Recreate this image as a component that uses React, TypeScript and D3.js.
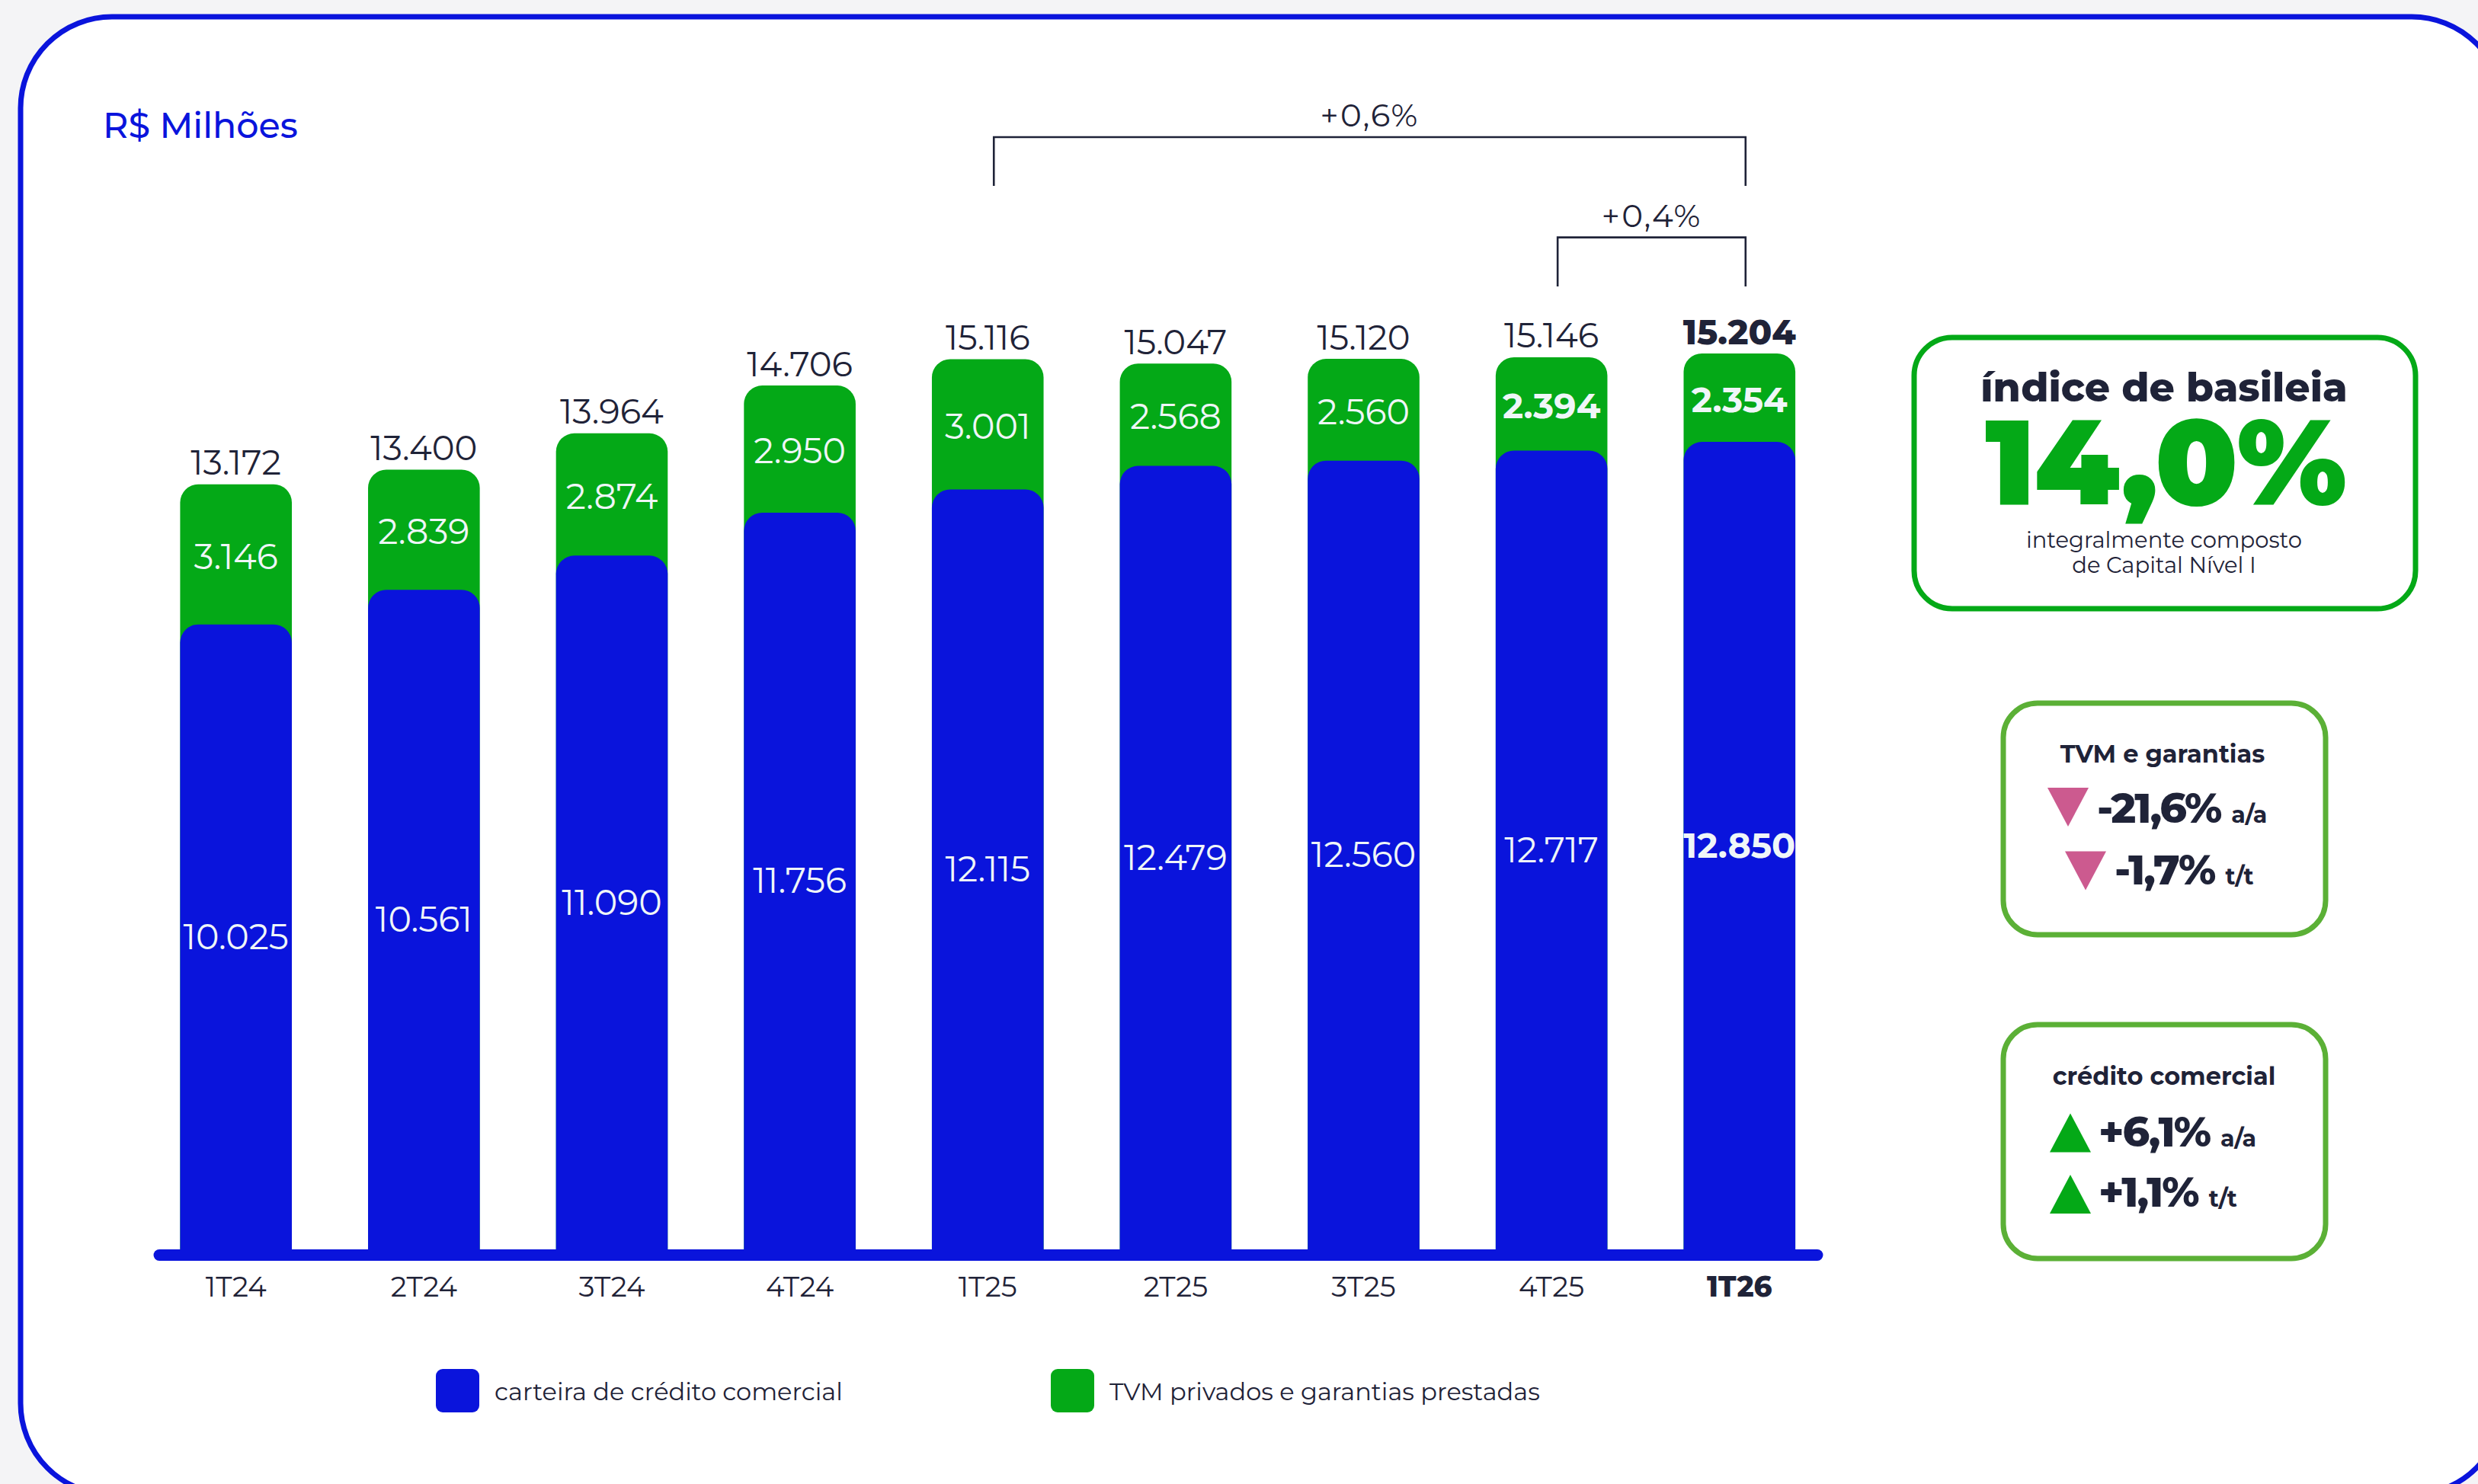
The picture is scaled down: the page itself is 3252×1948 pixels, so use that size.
import * as d3 from "d3";

const categories = ["1T24", "2T24", "3T24", "4T24", "1T25", "2T25", "3T25", "4T25", "1T26"];
const carteira = [10025, 10561, 11090, 11756, 12115, 12479, 12560, 12717, 12850];
const tvm = [3146, 2839, 2874, 2950, 3001, 2568, 2560, 2394, 2354];
const totals = [13172, 13400, 13964, 14706, 15116, 15047, 15120, 15146, 15204];
const boldTvm = ["4T25", "1T26"];
const highlight = "1T26";

const brackets = [
  { from: "1T25", to: "1T26", label: "+0,6%" },
  { from: "4T25", to: "1T26", label: "+0,4%" },
];

const legendItems = [
  { label: "carteira de crédito comercial", color: "#0a14dc" },
  { label: "TVM privados e garantias prestadas", color: "#04a917" },
];

const tvmChanges = [
  { value: "-21,6%", unit: "a/a" },
  { value: "-1,7%", unit: "t/t" },
];
const creditoChanges = [
  { value: "+6,1%", unit: "a/a" },
  { value: "+1,1%", unit: "t/t" },
];

const W = 3252;
const H = 1948;
const FONT = "Montserrat, Inter, 'Noto Sans', sans-serif";
const BLUE = "#0a14dc";
const GREEN = "#04a917";
const DARK = "#1f2338";
const LIGHT = "#eff6f8";
const PINK = "#cc5a8f";
const BASE = 1640;

const fmt = d3.formatLocale({ decimal: ",", thousands: ".", grouping: [3], currency: ["R$", ""] }).format(",d");

// top-rounded bar path
function topRounded(x: number, y: number, w: number, h: number, r: number) {
  return `M${x},${y + h}V${y + r}A${r},${r} 0 0 1 ${x + r},${y}H${x + w - r}A${r},${r} 0 0 1 ${x + w},${y + r}V${y + h}Z`;
}

export default function App() {
  const x = d3.scaleBand<string>().domain(categories).range([236.4, 2356.1]).paddingInner(0.4056).paddingOuter(0);
  // the chart's axis is truncated: blue segment and stack total each on their own scale
  const yBlue = d3.scaleLinear().domain([351, 13000]).range([BASE, BASE - 1072.6]);
  const yTotal = d3.scaleLinear().domain([1290, 15500]).range([BASE, BASE - 1201]);
  const bw = x.bandwidth();

  const bars = categories.map((c, i) => {
    const bx = x(c) as number;
    const blueTop = yBlue(carteira[i]);
    const greenTop = yTotal(totals[i]);
    return { c, i, bx, blueTop, greenTop, cx: bx + bw / 2 };
  });
  const byCat = new Map(bars.map((b) => [b.c, b]));

  return (
    <svg width={W} height={H} style={{ position: "absolute", left: 0, top: 0, display: "block" }} fontFamily={FONT}>
      <rect x={0} y={0} width={W} height={H} fill="#f4f4f6" />
      <rect x={27} y={22} width={3258} height={1940} rx={120} fill="#ffffff" stroke={BLUE} strokeWidth={7} />

      <text x={135} y={181} fontSize={46} fontWeight={500} fill={BLUE}>R$ Milhões</text>

      {/* brackets */}
      {brackets.map((b, k) => {
        const x1 = (byCat.get(b.from)!.cx) + 8;
        const x2 = (byCat.get(b.to)!.cx) + 8;
        const yTop = k === 0 ? 180 : 311.6;
        const yBot = k === 0 ? 244 : 376;
        return (
          <g key={b.label}>
            <path d={`M${x1},${yBot}V${yTop}H${x2}V${yBot}`} fill="none" stroke={DARK} strokeWidth={2.6} />
            <text x={(x1 + x2) / 2} y={yTop - 14} textAnchor="middle" fontSize={42} letterSpacing={2} fill={DARK}>{b.label}</text>
          </g>
        );
      })}

      {/* bars */}
      {bars.map((b) => (
        <g key={b.c}>
          <path d={topRounded(b.bx, b.greenTop, bw, BASE - b.greenTop, 24)} fill={GREEN} />
          <path d={topRounded(b.bx, b.blueTop, bw, BASE + 4 - b.blueTop, 24)} fill={BLUE} />
          <text x={b.cx} y={b.greenTop - 12.5} textAnchor="middle" fontSize={45}
            fontWeight={b.c === highlight ? 800 : 400} fill={DARK}>{fmt(totals[b.i])}</text>
          <text x={b.cx} y={(b.greenTop + b.blueTop) / 2 + 19} textAnchor="middle" fontSize={46}
            fontWeight={boldTvm.includes(b.c) ? 700 : 400} fill={LIGHT}>{fmt(tvm[b.i])}</text>
          <text x={b.cx} y={(b.blueTop + BASE) / 2 + 16} textAnchor="middle" fontSize={46}
            fontWeight={b.c === highlight ? 700 : 400} fill={LIGHT}>{fmt(carteira[b.i])}</text>
          <text x={b.cx} y={1702} textAnchor="middle" fontSize={37}
            fontWeight={b.c === highlight ? 800 : 400} fill={DARK}>{b.c}</text>
        </g>
      ))}

      {/* axis line */}
      <line x1={209} x2={2385} y1={1647.5} y2={1647.5} stroke={BLUE} strokeWidth={15} strokeLinecap="round" />

      {/* legend */}
      {legendItems.map((l, k) => {
        const lx = k === 0 ? 572 : 1379;
        return (
          <g key={l.label}>
            <rect x={lx} y={1797} width={57} height={57} rx={9} fill={l.color} />
            <text x={lx + 77} y={1838} fontSize={32} fill={DARK}>{l.label}</text>
          </g>
        );
      })}

      {/* basileia panel */}
      <rect x={2512} y={443} width={658} height={356} rx={50} fill="none" stroke={GREEN} strokeWidth={7} />
      <text x={2840} y={527} textAnchor="middle" fontSize={52} fontWeight={800} fill={DARK}>índice de basileia</text>
      <text x={2842} y={662} textAnchor="middle" fontSize={157} fontWeight={900} fill={GREEN} letterSpacing={-1}>14,0%</text>
      <text x={2840} y={719} textAnchor="middle" fontSize={29} fill={DARK}>integralmente composto</text>
      <text x={2840} y={752} textAnchor="middle" fontSize={29} fill={DARK}>de Capital Nível I</text>

      {/* TVM panel */}
      <rect x={2629} y={923} width={423} height={304} rx={45} fill="none" stroke="#5bb036" strokeWidth={7} />
      <text x={2838} y={1001} textAnchor="middle" fontSize={32} fontWeight={700} fill={DARK}>TVM e garantias</text>
      {tvmChanges.map((t, k) => {
        const tx = k === 0 ? 2687 : 2710;
        const ty = k === 0 ? 1034 : 1117.6;
        const by = k === 0 ? 1080 : 1160.5;
        return (
          <g key={t.unit}>
            <polygon points={`${tx},${ty} ${tx + 54},${ty} ${tx + 27},${ty + 51}`} fill={PINK} />
            <text x={tx + 65} y={by} fill={DARK} fontWeight={800}>
              <tspan fontSize={55} letterSpacing={-2}>{t.value}</tspan>
              <tspan fontSize={30} dx={14} fontWeight={700}>{t.unit}</tspan>
            </text>
          </g>
        );
      })}

      {/* crédito panel */}
      <rect x={2629} y={1345} width={423} height={307} rx={45} fill="none" stroke="#5bb036" strokeWidth={7} />
      <text x={2840} y={1423.6} textAnchor="middle" fontSize={32} fontWeight={700} fill={DARK}>crédito comercial</text>
      {creditoChanges.map((t, k) => {
        const tx = 2690;
        const ty = k === 0 ? 1461.5 : 1542;
        const by = k === 0 ? 1504.7 : 1584;
        return (
          <g key={t.unit}>
            <polygon points={`${tx},${ty + 51} ${tx + 54},${ty + 51} ${tx + 27},${ty}`} fill={GREEN} />
            <text x={tx + 64} y={by} fill={DARK} fontWeight={800}>
              <tspan fontSize={55} letterSpacing={-2}>{t.value}</tspan>
              <tspan fontSize={30} dx={14} fontWeight={700}>{t.unit}</tspan>
            </text>
          </g>
        );
      })}
    </svg>
  );
}
